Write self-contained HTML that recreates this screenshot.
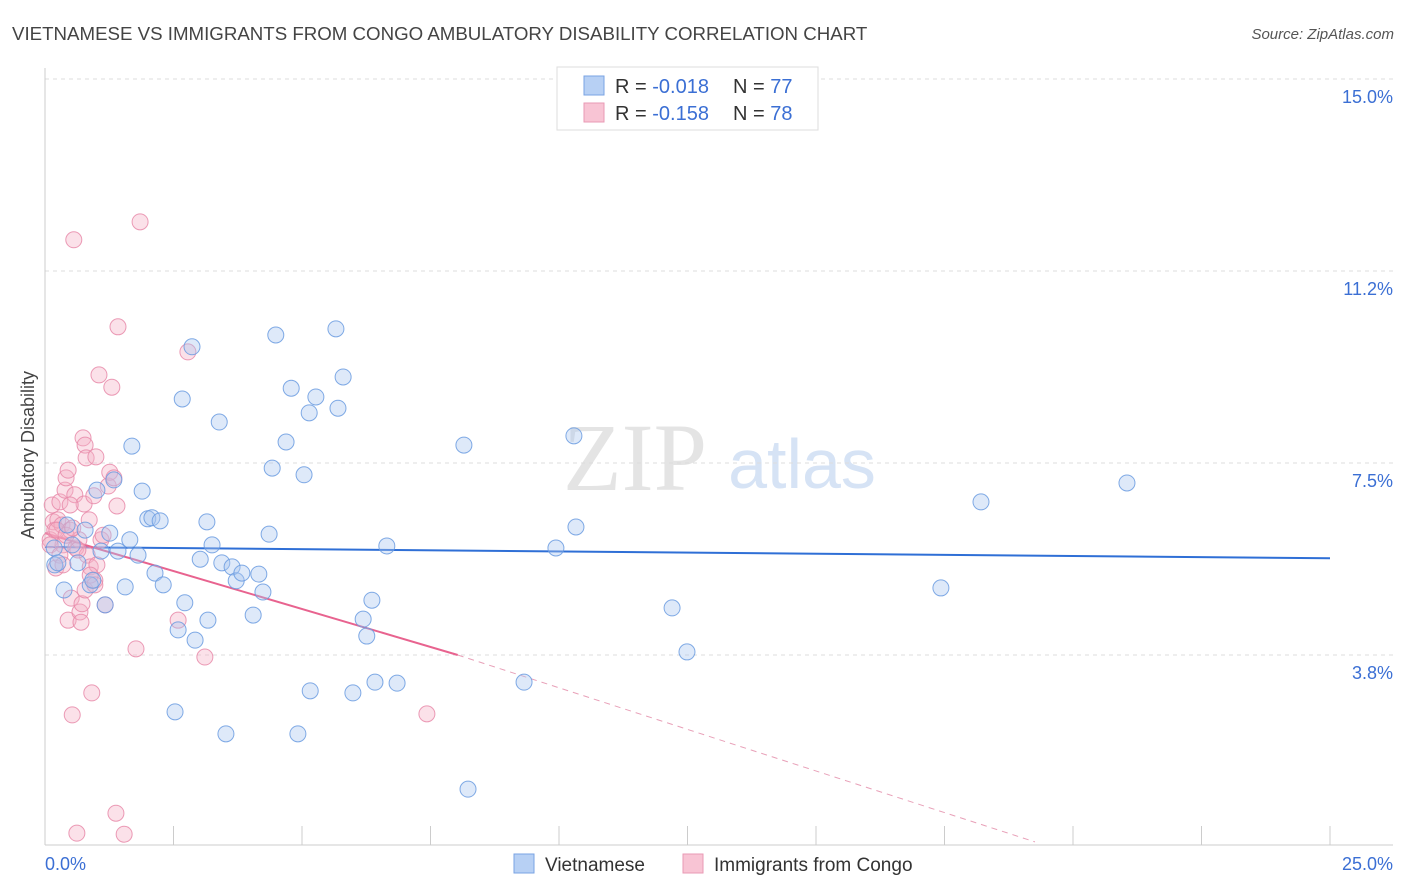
<!DOCTYPE html>
<html><head><meta charset="utf-8"><style>
body{margin:0;background:#fff;font-family:"Liberation Sans",sans-serif}
svg{display:block}
</style></head><body>
<svg id="chart" width="1406" height="892" xmlns="http://www.w3.org/2000/svg">
<text x="12" y="40" font-size="18.7" fill="#444">VIETNAMESE VS IMMIGRANTS FROM CONGO AMBULATORY DISABILITY CORRELATION CHART</text>
<text x="1394" y="39" font-size="15" fill="#555" font-style="italic" text-anchor="end">Source: ZipAtlas.com</text>
<g>
<text x="635" y="490" font-size="96" font-family="Liberation Serif,serif" fill="#e4e4e4" text-anchor="middle">ZIP</text>
<text x="802" y="488" font-size="70" fill="#d6e3f5" text-anchor="middle">atlas</text>
</g>
<g id="grid"></g>
<g id="axes"></g>
<g id="lines"></g>
<g id="pts"></g>
<text x="34" y="455" font-size="18" fill="#444" transform="rotate(-90 34 455)" text-anchor="middle">Ambulatory Disability</text>
<g>
<rect x="557" y="67" width="261" height="63" fill="#fff" stroke="#ddd"/>
<rect x="584" y="76" width="20" height="19" fill="#b7d0f4" stroke="#7aa3e3"/>
<rect x="584" y="103" width="20" height="19" fill="#f8c4d4" stroke="#e99ab4"/>
<text x="615" y="93" font-size="20" fill="#333">R = <tspan fill="#3b6fd4">-0.018</tspan></text>
<text x="733" y="93" font-size="20" fill="#333">N = <tspan fill="#3b6fd4">77</tspan></text>
<text x="615" y="120" font-size="20" fill="#333">R = <tspan fill="#3b6fd4">-0.158</tspan></text>
<text x="733" y="120" font-size="20" fill="#333">N = <tspan fill="#3b6fd4">78</tspan></text>
</g>
<g>
<rect x="514" y="854" width="20" height="19" fill="#b7d0f4" stroke="#7aa3e3"/>
<text x="545" y="871" font-size="19" fill="#333">Vietnamese</text>
<rect x="683" y="854" width="20" height="19" fill="#f8c4d4" stroke="#e99ab4"/>
<text x="714" y="871" font-size="19" fill="#333">Immigrants from Congo</text>
</g>
</svg>
<script>
const yTicks=[3.75,7.5,11.25,15];
const yTickLabels=["3.8%","7.5%","11.2%","15.0%"];
const xMin=0,xMax=25,yMin=0,yMax=15;
const blueX=[.18,.19,.25,.37,.43,.53,.64,.78,.88,.93,1.01,1.09,1.17,1.26,1.34,1.42,1.56,1.65,1.69,1.81,1.89,2.00,2.08,2.14,2.24,2.30,2.53,2.59,2.67,2.72,2.86,2.92,3.02,3.15,3.17,3.25,3.39,3.44,3.52,3.64,3.72,3.83,4.05,4.16,4.24,4.36,4.42,4.49,4.69,4.79,4.92,5.04,5.16,5.14,5.27,5.66,5.70,5.80,5.99,6.19,6.26,6.36,6.42,6.65,6.85,8.15,8.23,9.32,9.94,10.29,10.33,12.20,12.49,17.43,18.21,21.05];
const blueY=[5.84,5.51,5.55,5.02,6.29,5.90,5.55,6.19,5.12,5.21,6.97,5.78,4.73,6.13,7.17,5.78,5.08,6.00,7.83,5.70,6.95,6.41,6.43,5.35,6.37,5.12,2.64,4.24,8.75,4.77,9.77,4.04,5.62,6.35,4.43,5.90,8.30,5.55,2.21,5.47,5.20,5.35,4.53,5.33,4.98,6.11,7.40,10.00,7.91,8.96,2.21,7.27,3.05,8.48,8.79,10.12,8.57,9.18,3.01,4.45,4.12,4.82,3.22,5.88,3.20,7.85,1.13,3.22,5.84,8.03,6.25,4.67,3.81,5.06,6.74,7.11];
const pinkX=[.10,.14,.16,.19,.21,.25,.29,.33,.35,.39,.41,.45,.45,.49,.51,.53,.56,.58,.60,.62,.66,.68,.70,.72,.74,.76,.78,.80,.82,.86,.88,.91,.95,.97,.99,1.01,1.05,1.09,1.13,1.17,1.23,1.26,1.30,1.34,1.38,1.40,1.42,1.54,1.77,1.85,2.59,2.78,3.11,7.43,.10,.23,.29,.35,.41,.49,.54,.64,.78,.88,.97];
const pinkY=[6.00,6.68,6.35,6.19,5.45,6.39,6.74,6.29,5.90,6.97,7.21,7.36,4.43,6.19,4.86,2.58,11.86,6.88,5.84,0.27,6.00,4.59,4.39,4.75,7.99,6.70,7.85,7.60,5.70,6.39,5.47,3.01,6.86,5.21,7.62,5.51,9.22,6.00,6.09,4.73,7.05,7.32,8.98,7.21,0.66,6.66,10.16,0.25,3.87,12.21,4.43,9.67,3.71,2.60,5.90,6.19,5.70,5.51,6.09,6.68,6.23,5.80,5.02,5.31,5.12];
const blueTrend=[5.86,5.64];
const pinkTrendX=[0,8.03,19.26];
const pinkTrendY=[6.13,3.75,0.10];
const NS="http://www.w3.org/2000/svg";
const X=v=>45+(v-xMin)/(xMax-xMin)*1285;
const Y=v=>847-(v-yMin)/(yMax-yMin)*768;
function mk(t,a,p){const e=document.createElementNS(NS,t);for(const k in a)e.setAttribute(k,a[k]);p.appendChild(e);return e;}
const grid=document.getElementById('grid'),axes=document.getElementById('axes'),lines=document.getElementById('lines'),pts=document.getElementById('pts');
yTicks.forEach((t,i)=>{
 const l=mk('line',{x1:45,x2:1393,y1:Y(t),y2:Y(t),stroke:'#ddd','stroke-dasharray':'4,4'},grid);
 
 
 const tx=mk('text',{x:1393,y:Y(t)+24,'font-size':18,fill:'#3b6fd4','text-anchor':'end'},axes);
 tx.textContent=yTickLabels[i];
 
 
});
mk('line',{x1:45,x2:45,y1:68,y2:845,stroke:'#ccc'},axes);
mk('line',{x1:45,x2:1393,y1:845,y2:845,stroke:'#ccc'},axes);
for(let i=0;i<=10;i++){mk('line',{x1:X(i*2.5),x2:X(i*2.5),y1:826,y2:845,stroke:'#ccc'},axes);}
const x0=mk('text',{x:45,y:870,'font-size':18,fill:'#3b6fd4'},axes);x0.textContent='0.0%';


const x1=mk('text',{x:1393,y:870,'font-size':18,fill:'#3b6fd4','text-anchor':'end'},axes);x1.textContent='25.0%';


function dots(xs,ys,fill,stroke,name){xs.forEach((x,i)=>{const c=mk('circle',{cx:X(x),cy:Y(ys[i]),r:8,fill:fill,'fill-opacity':0.38,stroke:stroke,'stroke-width':1,'stroke-opacity':0.85},pts);
 
 });}
dots(pinkX,pinkY,'#f5b0c6','#e88aa9','point-congo');
dots(blueX,blueY,'#a8c6f0','#6a9be0','point-vietnamese');
const bl=mk('line',{x1:X(0),y1:Y(blueTrend[0]),x2:X(25),y2:Y(blueTrend[1]),stroke:'#2f6fd6','stroke-width':2},lines);


const pl=mk('line',{x1:X(pinkTrendX[0]),y1:Y(pinkTrendY[0]),x2:X(pinkTrendX[1]),y2:Y(pinkTrendY[1]),stroke:'#e8638f','stroke-width':2},lines);


const pd=mk('line',{x1:X(pinkTrendX[1]),y1:Y(pinkTrendY[1]),x2:X(pinkTrendX[2]),y2:Y(pinkTrendY[2]),stroke:'#e8a0b8','stroke-width':1,'stroke-dasharray':'6,5'},lines);


</script>
</body></html>
